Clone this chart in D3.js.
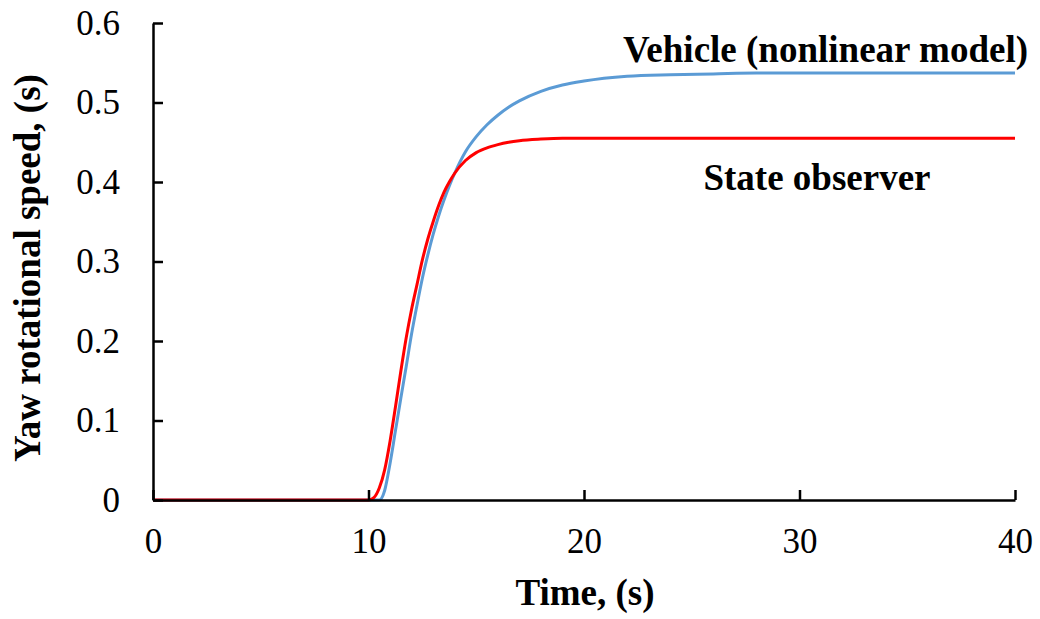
<!DOCTYPE html>
<html><head><meta charset="utf-8">
<script src="https://cdn.jsdelivr.net/npm/d3@7"></script>
<style>body{margin:0;background:#fff}svg{display:block}text{font-family:"Liberation Serif","Times New Roman",serif;fill:#000}</style>
</head><body><svg id="c" width="1040" height="619"></svg>
<script>
const time =     [0, 10, 10.25, 10.5, 10.75, 11, 11.25, 11.5, 11.75, 12, 12.25, 12.5, 12.75, 13, 13.25, 13.5, 13.75, 14, 14.5, 15, 15.5, 16, 16.5, 17, 18, 19, 20, 22, 24, 26, 28, 30, 35, 40];
const vehicle =  [0, 0, 0, 0, 0.012, 0.046, 0.087, 0.128, 0.168, 0.209, 0.245, 0.279, 0.308, 0.334, 0.357, 0.377, 0.395, 0.411, 0.438, 0.457, 0.472, 0.484, 0.494, 0.502, 0.514, 0.522, 0.527, 0.533, 0.535, 0.536, 0.537, 0.537, 0.537, 0.537];
const observer = [0, 0, 0.003, 0.015, 0.038, 0.074, 0.117, 0.162, 0.204, 0.24, 0.271, 0.302, 0.328, 0.35, 0.37, 0.387, 0.4, 0.411, 0.427, 0.437, 0.443, 0.447, 0.45, 0.452, 0.454, 0.455, 0.455, 0.455, 0.455, 0.455, 0.455, 0.455, 0.455, 0.455];
const xTicks = [0, 10, 20, 30, 40];
const yTicks = [0, 0.1, 0.2, 0.3, 0.4, 0.5, 0.6];
const seriesNames = ["Vehicle (nonlinear model)", "State observer"];
const seriesColors = ["#5B9BD5", "#FF0000"];

const svg = d3.select("#c");
const x = d3.scaleLinear().domain([0, 40]).range([153, 1015]);
const y = d3.scaleLinear().domain([0, 0.6]).range([500, 23]);

const line = d3.line().x(d => x(d[0])).y(d => y(d[1])).curve(d3.curveMonotoneX);
[vehicle, observer].forEach((s, i) => {
  svg.append("path").datum(time.map((t, k) => [t, s[k]]))
    .attr("d", line).attr("fill", "none")
    .attr("stroke", seriesColors[i]).attr("stroke-width", 3);
});

// axes
const xa = svg.append("g").attr("transform", "translate(0,500)")
  .call(d3.axisBottom(x).tickValues(xTicks).tickSizeInner(-10).tickSizeOuter(0).tickPadding(28).tickFormat(d3.format("d")));
const ya = svg.append("g").attr("transform", "translate(153,0)")
  .call(d3.axisLeft(y).tickValues(yTicks).tickSizeInner(-10).tickSizeOuter(0).tickPadding(33).tickFormat(d => d === 0 ? "0" : d3.format(".1f")(d)));
[xa, ya].forEach(a => {
  a.select(".domain").attr("stroke", "#000").attr("stroke-width", 2.5);
  a.selectAll(".tick line").attr("stroke", "#000").attr("stroke-width", 2.5);
  a.selectAll("text").style("font-family", '"Liberation Serif", serif').style("font-size", "35px").attr("fill", "#000");
});
xa.selectAll(".tick text").attr("dy", "0.71em");

svg.append("text").attr("x", 585).attr("y", 605).attr("text-anchor", "middle")
  .style("font-size", "37px").style("font-weight", "bold").text("Time, (s)");
svg.append("text").attr("transform", "translate(40,268) rotate(-90)").attr("text-anchor", "middle")
  .style("font-size", "37px").style("font-weight", "bold").text("Yaw rotational speed, (s)");

svg.append("text").attr("x", 1028).attr("y", 62).attr("text-anchor", "end")
  .style("font-size", "37px").style("font-weight", "bold").text(seriesNames[0]);
svg.append("text").attr("x", 817).attr("y", 190).attr("text-anchor", "middle")
  .style("font-size", "37px").style("font-weight", "bold").text(seriesNames[1]);
</script></body></html>
